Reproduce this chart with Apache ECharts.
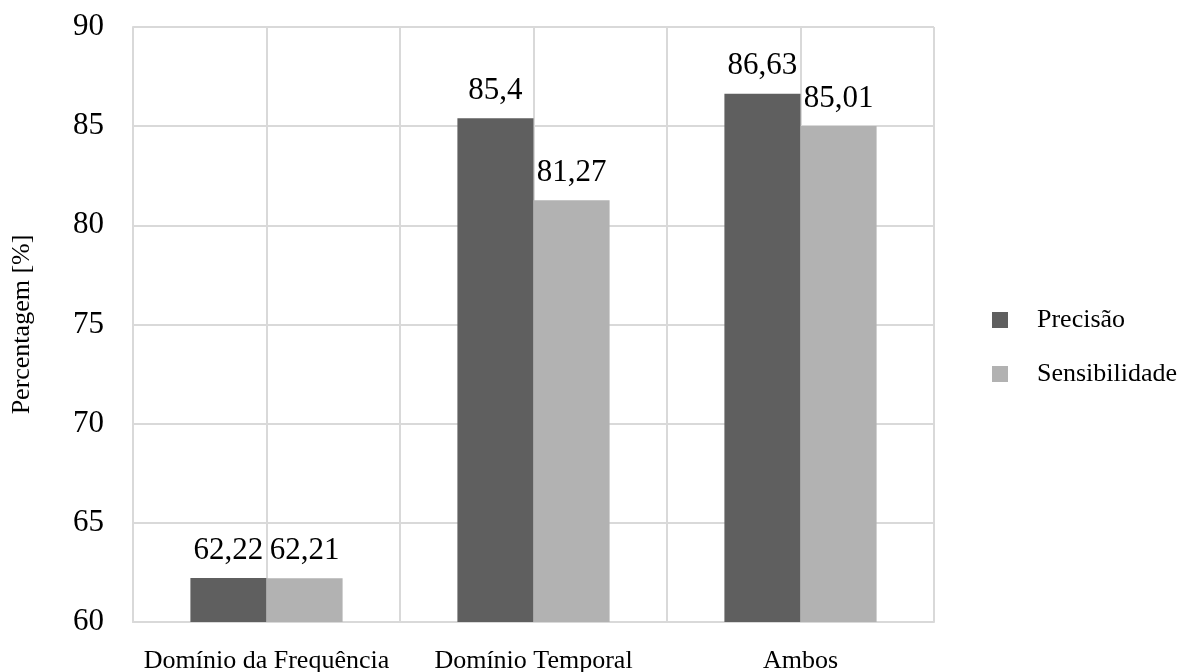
<!DOCTYPE html>
<html>
<head>
<meta charset="utf-8">
<script src="https://cdn.jsdelivr.net/npm/echarts@6/dist/echarts.min.js"></script>
<style>
  html, body { margin: 0; padding: 0; background: #fff; }
  #chart { width: 1177px; height: 672px; }
</style>
</head>
<body>
<div id="chart"></div>
<script>
// Categories and series values
var categories = ['Domínio da Frequência', 'Domínio Temporal', 'Ambos'];
var precisao = [62.22, 85.4, 86.63];
var sensibilidade = [62.21, 81.27, 85.01];
var seriesNames = ['Precisão', 'Sensibilidade'];
var yTicks = { min: 60, max: 90, interval: 5 };

var FONT = 'Liberation Serif';
var GRID_COLOR = '#d9d9d9';

function fmt(v) {
  return String(v).replace('.', ',');
}

// Half-category gridlines: one line at every category edge and centre
var halfSlots = [];
for (var i = 0; i < categories.length * 2; i++) halfSlots.push('');

var chart = echarts.init(document.getElementById('chart'), null, { renderer: 'canvas' });

var labelStyle = {
  show: true,
  position: 'top',
  distance: 12,
  fontFamily: FONT,
  fontSize: 31,
  color: '#000',
  formatter: function (p) { return fmt(p.value); }
};

chart.setOption({
  animation: false,
  backgroundColor: '#fff',
  grid: { left: 133, right: 243, top: 27, bottom: 50, containLabel: false, outerBoundsMode: 'none' },
  legend: {
    orient: 'vertical',
    left: 987,
    top: 302,
    itemWidth: 16,
    itemHeight: 16,
    itemGap: 28,
    icon: 'rect',
    textStyle: {
      fontFamily: FONT,
      fontSize: 26,
      color: '#000',
      padding: [0, 0, 0, 24],
      lineHeight: 26
    },
    data: seriesNames
  },
  xAxis: [
    {
      type: 'category',
      data: categories,
      axisLine: { show: true, lineStyle: { color: GRID_COLOR, width: 2 } },
      axisTick: { show: false },
      splitLine: { show: true, lineStyle: { color: GRID_COLOR, width: 2 } },
      axisLabel: {
        interval: 0,
        fontFamily: FONT,
        fontSize: 26,
        color: '#000',
        margin: 26
      }
    },
    {
      type: 'category',
      data: halfSlots,
      position: 'top',
      axisLine: { show: false },
      axisTick: { show: false },
      axisLabel: { show: false },
      splitLine: { show: true, lineStyle: { color: GRID_COLOR, width: 2 } }
    }
  ],
  yAxis: {
    type: 'value',
    min: yTicks.min,
    max: yTicks.max,
    interval: yTicks.interval,
    name: 'Percentagem [%]',
    nameLocation: 'middle',
    nameGap: 98,
    nameRotate: 90,
    nameTextStyle: { fontFamily: FONT, fontSize: 26, color: '#000' },
    axisLine: { show: true, lineStyle: { color: GRID_COLOR, width: 2 } },
    axisTick: { show: false },
    splitLine: { show: true, lineStyle: { color: GRID_COLOR, width: 2 } },
    axisLabel: {
      fontFamily: FONT,
      fontSize: 31,
      color: '#000',
      margin: 29
    }
  },
  series: [
    {
      name: seriesNames[0],
      type: 'bar',
      data: precisao,
      barGap: '0%',
      barCategoryGap: '43%',
      itemStyle: { color: '#5f5f5f' },
      label: labelStyle
    },
    {
      name: seriesNames[1],
      type: 'bar',
      data: sensibilidade,
      barGap: '0%',
      barCategoryGap: '43%',
      itemStyle: { color: '#b2b2b2' },
      label: labelStyle
    }
  ]
});
</script>
</body>
</html>
